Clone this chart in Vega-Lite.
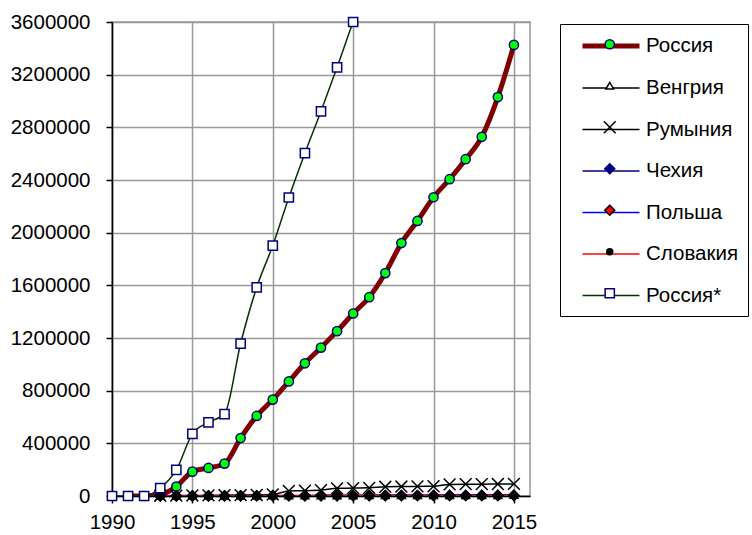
{
  "$schema": "https://vega.github.io/schema/vega-lite/v6.json",
  "autosize": {"type": "none"},
  "padding": {"left": 112, "top": 22, "right": 222, "bottom": 39},
  "width": 418,
  "height": 474,
  "background": "white",
  "config": {
    "font": "Liberation Sans",
    "view": {"stroke": "#999999", "strokeWidth": 1.5},
    "axis": {
      "labelFont": "Liberation Sans",
      "labelFontSize": 20.5,
      "labelColor": "black",
      "gridColor": "#999999",
      "gridWidth": 1.5,
      "gridOpacity": 1,
      "domainColor": "black",
      "domainWidth": 1.5,
      "tickColor": "black",
      "tickWidth": 1.5,
      "title": null,
      "labelFlush": false,
      "labelOverlap": false
    },
    "legend": {
      "labelFont": "Liberation Sans",
      "labelFontSize": 20.5,
      "labelColor": "black"
    }
  },
  "datasets": {
    "d": [
      {"series": "Россия", "year": 1991, "value": 0},
      {"series": "Россия", "year": 1992, "value": 0},
      {"series": "Россия", "year": 1993, "value": 10000},
      {"series": "Россия", "year": 1994, "value": 72000},
      {"series": "Россия", "year": 1995, "value": 185000},
      {"series": "Россия", "year": 1996, "value": 213000},
      {"series": "Россия", "year": 1997, "value": 246000},
      {"series": "Россия", "year": 1998, "value": 440000},
      {"series": "Россия", "year": 1999, "value": 608000},
      {"series": "Россия", "year": 2000, "value": 732000},
      {"series": "Россия", "year": 2001, "value": 870000},
      {"series": "Россия", "year": 2002, "value": 1008000},
      {"series": "Россия", "year": 2003, "value": 1127000},
      {"series": "Россия", "year": 2004, "value": 1252000},
      {"series": "Россия", "year": 2005, "value": 1386000},
      {"series": "Россия", "year": 2006, "value": 1510000},
      {"series": "Россия", "year": 2007, "value": 1693000},
      {"series": "Россия", "year": 2008, "value": 1921000},
      {"series": "Россия", "year": 2009, "value": 2089000},
      {"series": "Россия", "year": 2010, "value": 2269000},
      {"series": "Россия", "year": 2011, "value": 2406000},
      {"series": "Россия", "year": 2012, "value": 2558000},
      {"series": "Россия", "year": 2013, "value": 2728000},
      {"series": "Россия", "year": 2014, "value": 3030000},
      {"series": "Россия", "year": 2015, "value": 3426000},
      {"series": "Венгрия", "year": 1993, "value": 1000},
      {"series": "Венгрия", "year": 1994, "value": 1500},
      {"series": "Венгрия", "year": 1995, "value": 2000},
      {"series": "Венгрия", "year": 1996, "value": 2500},
      {"series": "Венгрия", "year": 1997, "value": 3000},
      {"series": "Венгрия", "year": 1998, "value": 3200},
      {"series": "Венгрия", "year": 1999, "value": 3500},
      {"series": "Венгрия", "year": 2000, "value": 3800},
      {"series": "Венгрия", "year": 2001, "value": 4000},
      {"series": "Венгрия", "year": 2002, "value": 4300},
      {"series": "Венгрия", "year": 2003, "value": 4600},
      {"series": "Венгрия", "year": 2004, "value": 5000},
      {"series": "Венгрия", "year": 2005, "value": 5300},
      {"series": "Венгрия", "year": 2006, "value": 5600},
      {"series": "Венгрия", "year": 2007, "value": 6000},
      {"series": "Венгрия", "year": 2008, "value": 6200},
      {"series": "Венгрия", "year": 2009, "value": 6400},
      {"series": "Венгрия", "year": 2010, "value": 6600},
      {"series": "Венгрия", "year": 2011, "value": 6800},
      {"series": "Венгрия", "year": 2012, "value": 7000},
      {"series": "Венгрия", "year": 2013, "value": 7200},
      {"series": "Венгрия", "year": 2014, "value": 7400},
      {"series": "Венгрия", "year": 2015, "value": 7600},
      {"series": "Румыния", "year": 1993, "value": 2000},
      {"series": "Румыния", "year": 1994, "value": 3000},
      {"series": "Румыния", "year": 1995, "value": 4000},
      {"series": "Румыния", "year": 1996, "value": 5000},
      {"series": "Румыния", "year": 1997, "value": 6000},
      {"series": "Румыния", "year": 1998, "value": 7000},
      {"series": "Румыния", "year": 1999, "value": 8000},
      {"series": "Румыния", "year": 2000, "value": 12000},
      {"series": "Румыния", "year": 2001, "value": 38000},
      {"series": "Румыния", "year": 2002, "value": 40000},
      {"series": "Румыния", "year": 2003, "value": 45000},
      {"series": "Румыния", "year": 2004, "value": 58000},
      {"series": "Румыния", "year": 2005, "value": 60000},
      {"series": "Румыния", "year": 2006, "value": 62000},
      {"series": "Румыния", "year": 2007, "value": 70000},
      {"series": "Румыния", "year": 2008, "value": 72000},
      {"series": "Румыния", "year": 2009, "value": 73000},
      {"series": "Румыния", "year": 2010, "value": 74000},
      {"series": "Румыния", "year": 2011, "value": 88000},
      {"series": "Румыния", "year": 2012, "value": 90000},
      {"series": "Румыния", "year": 2013, "value": 90000},
      {"series": "Румыния", "year": 2014, "value": 91000},
      {"series": "Румыния", "year": 2015, "value": 92000},
      {"series": "Чехия", "year": 1993, "value": 500},
      {"series": "Чехия", "year": 1994, "value": 800},
      {"series": "Чехия", "year": 1995, "value": 1100},
      {"series": "Чехия", "year": 1996, "value": 1400},
      {"series": "Чехия", "year": 1997, "value": 1700},
      {"series": "Чехия", "year": 1998, "value": 2000},
      {"series": "Чехия", "year": 1999, "value": 2200},
      {"series": "Чехия", "year": 2000, "value": 2400},
      {"series": "Чехия", "year": 2001, "value": 2600},
      {"series": "Чехия", "year": 2002, "value": 2800},
      {"series": "Чехия", "year": 2003, "value": 3000},
      {"series": "Чехия", "year": 2004, "value": 3200},
      {"series": "Чехия", "year": 2005, "value": 3400},
      {"series": "Чехия", "year": 2006, "value": 3600},
      {"series": "Чехия", "year": 2007, "value": 3800},
      {"series": "Чехия", "year": 2008, "value": 4000},
      {"series": "Чехия", "year": 2009, "value": 4100},
      {"series": "Чехия", "year": 2010, "value": 4200},
      {"series": "Чехия", "year": 2011, "value": 4300},
      {"series": "Чехия", "year": 2012, "value": 4400},
      {"series": "Чехия", "year": 2013, "value": 4500},
      {"series": "Чехия", "year": 2014, "value": 4600},
      {"series": "Чехия", "year": 2015, "value": 4700},
      {"series": "Польша", "year": 1993, "value": 300},
      {"series": "Польша", "year": 1994, "value": 500},
      {"series": "Польша", "year": 1995, "value": 700},
      {"series": "Польша", "year": 1996, "value": 900},
      {"series": "Польша", "year": 1997, "value": 1100},
      {"series": "Польша", "year": 1998, "value": 1300},
      {"series": "Польша", "year": 1999, "value": 1500},
      {"series": "Польша", "year": 2000, "value": 1700},
      {"series": "Польша", "year": 2001, "value": 1900},
      {"series": "Польша", "year": 2002, "value": 2100},
      {"series": "Польша", "year": 2003, "value": 2300},
      {"series": "Польша", "year": 2004, "value": 2500},
      {"series": "Польша", "year": 2005, "value": 2700},
      {"series": "Польша", "year": 2006, "value": 2900},
      {"series": "Польша", "year": 2007, "value": 3100},
      {"series": "Польша", "year": 2008, "value": 3300},
      {"series": "Польша", "year": 2009, "value": 3500},
      {"series": "Польша", "year": 2010, "value": 3700},
      {"series": "Польша", "year": 2011, "value": 3900},
      {"series": "Польша", "year": 2012, "value": 4100},
      {"series": "Польша", "year": 2013, "value": 4300},
      {"series": "Польша", "year": 2014, "value": 4500},
      {"series": "Польша", "year": 2015, "value": 4700},
      {"series": "Словакия", "year": 1993, "value": 200},
      {"series": "Словакия", "year": 1994, "value": 300},
      {"series": "Словакия", "year": 1995, "value": 400},
      {"series": "Словакия", "year": 1996, "value": 500},
      {"series": "Словакия", "year": 1997, "value": 600},
      {"series": "Словакия", "year": 1998, "value": 700},
      {"series": "Словакия", "year": 1999, "value": 800},
      {"series": "Словакия", "year": 2000, "value": 900},
      {"series": "Словакия", "year": 2001, "value": 1000},
      {"series": "Словакия", "year": 2002, "value": 1100},
      {"series": "Словакия", "year": 2003, "value": 1200},
      {"series": "Словакия", "year": 2004, "value": 1300},
      {"series": "Словакия", "year": 2005, "value": 1400},
      {"series": "Словакия", "year": 2006, "value": 1500},
      {"series": "Словакия", "year": 2007, "value": 1600},
      {"series": "Словакия", "year": 2008, "value": 1700},
      {"series": "Словакия", "year": 2009, "value": 1800},
      {"series": "Словакия", "year": 2010, "value": 1900},
      {"series": "Словакия", "year": 2011, "value": 2000},
      {"series": "Словакия", "year": 2012, "value": 2100},
      {"series": "Словакия", "year": 2013, "value": 2200},
      {"series": "Словакия", "year": 2014, "value": 2300},
      {"series": "Словакия", "year": 2015, "value": 2400},
      {"series": "Россия*", "year": 1990, "value": 0},
      {"series": "Россия*", "year": 1991, "value": 0},
      {"series": "Россия*", "year": 1992, "value": 0},
      {"series": "Россия*", "year": 1993, "value": 60000},
      {"series": "Россия*", "year": 1994, "value": 198000},
      {"series": "Россия*", "year": 1995, "value": 472000},
      {"series": "Россия*", "year": 1996, "value": 560000},
      {"series": "Россия*", "year": 1997, "value": 622000},
      {"series": "Россия*", "year": 1998, "value": 1158000},
      {"series": "Россия*", "year": 1999, "value": 1585000},
      {"series": "Россия*", "year": 2000, "value": 1902000},
      {"series": "Россия*", "year": 2001, "value": 2267000},
      {"series": "Россия*", "year": 2002, "value": 2604000},
      {"series": "Россия*", "year": 2003, "value": 2922000},
      {"series": "Россия*", "year": 2004, "value": 3256000},
      {"series": "Россия*", "year": 2005, "value": 3600000},
      {"series": "Россия*", "year": 2006, "value": 3900000}
    ]
  },
  "data": {"name": "d"},
  "encoding": {
    "x": {
      "field": "year", "type": "quantitative",
      "scale": {"domain": [1990, 2016], "nice": false, "zero": false},
      "axis": {"values": [1990, 1995, 2000, 2005, 2010, 2015], "format": "d", "tickSize": 7, "labelPadding": 9}
    },
    "y": {
      "field": "value", "type": "quantitative",
      "scale": {"domain": [0, 3600000], "nice": false},
      "axis": {"values": [0, 400000, 800000, 1200000, 1600000, 2000000, 2400000, 2800000, 3200000, 3600000], "format": "d", "tickSize": 6, "labelPadding": 16}
    }
  },
  "layer": [
    {
      "mark": {"type": "line", "interpolate": "monotone", "clip": true},
      "encoding": {
        "stroke": {
          "field": "series", "type": "nominal",
          "scale": {"domain": ["Россия", "Венгрия", "Румыния", "Чехия", "Польша", "Словакия", "Россия*"],
                    "range": ["#800000", "#000000", "#000000", "#000080", "#0000FF", "#FF0000", "#003300"]},
          "legend": {"title": null, "orient": "none", "legendX": 448, "legendY": 2, "symbolType": "M-3,0H3", "symbolSize": 361, "padding": 10, "symbolOffset": 29, "labelOffset": 23, "rowPadding": 20.5, "strokeColor": "black", "fillColor": "white", "zindex": 1}
        },
        "strokeWidth": {
          "field": "series", "type": "nominal",
          "scale": {"type": "ordinal", "domain": ["Россия", "Венгрия", "Румыния", "Чехия", "Польша", "Словакия", "Россия*"],
                    "range": [5, 1.5, 1.5, 1.5, 1.5, 1.5, 1.5]},
          "legend": {"title": null, "orient": "none", "legendX": 448, "legendY": 2, "symbolType": "M-3,0H3", "symbolSize": 361, "padding": 10, "symbolOffset": 29, "labelOffset": 23, "rowPadding": 20.5, "strokeColor": "black", "fillColor": "white", "zindex": 1}
        }
      }
    },
    {
      "transform": [{"filter": "datum.value <= 3610000"}],
      "mark": {"type": "point", "filled": true, "opacity": 1, "strokeWidth": 1.5},
      "encoding": {
        "shape": {
          "field": "series", "type": "nominal",
          "scale": {"domain": ["Россия", "Венгрия", "Румыния", "Чехия", "Польша", "Словакия", "Россия*"],
                    "range": ["circle", "triangle-up", "M-1,-1L1,1M-1,1L1,-1", "diamond", "diamond", "circle", "square"]},
          "legend": {"title": null, "orient": "none", "legendX": 467.5, "legendY": 2, "padding": 10, "symbolOffset": 10, "rowPadding": 20.5, "labelExpr": "''", "labelColor": "transparent", "symbolStrokeWidth": 1.5, "zindex": 2}
        },
        "fill": {
          "field": "series", "type": "nominal",
          "scale": {"domain": ["Россия", "Венгрия", "Румыния", "Чехия", "Польша", "Словакия", "Россия*"],
                    "range": ["#00FF00", "#FFFFFF", "transparent", "#000080", "#FF0000", "#000000", "#FFFFFF"]},
          "legend": {"title": null, "orient": "none", "legendX": 467.5, "legendY": 2, "padding": 10, "symbolOffset": 10, "rowPadding": 20.5, "labelExpr": "''", "labelColor": "transparent", "symbolStrokeWidth": 1.5, "zindex": 2}
        },
        "stroke": {
          "field": "series", "type": "nominal",
          "scale": {"domain": ["Россия", "Венгрия", "Румыния", "Чехия", "Польша", "Словакия", "Россия*"],
                    "range": ["#000080", "#000000", "#000000", "#000080", "#000000", "#000000", "#000080"]},
          "legend": {"title": null, "orient": "none", "legendX": 467.5, "legendY": 2, "padding": 10, "symbolOffset": 10, "rowPadding": 20.5, "labelExpr": "''", "labelColor": "transparent", "symbolStrokeWidth": 1.5, "zindex": 2}
        },
        "size": {
          "field": "series", "type": "nominal",
          "scale": {"type": "ordinal", "domain": ["Россия", "Венгрия", "Румыния", "Чехия", "Польша", "Словакия", "Россия*"],
                    "range": [85, 60, 140, 100, 100, 36, 85]},
          "legend": {"title": null, "orient": "none", "legendX": 467.5, "legendY": 2, "padding": 10, "symbolOffset": 10, "rowPadding": 20.5, "labelExpr": "''", "labelColor": "transparent", "symbolStrokeWidth": 1.5, "zindex": 2}
        }
      }
    }
  ],
  "resolve": {
    "scale": {"stroke": "independent", "strokeWidth": "independent", "shape": "independent", "fill": "independent", "size": "independent"},
    "legend": {"stroke": "independent", "strokeWidth": "independent", "shape": "independent", "fill": "independent", "size": "independent"}
  }
}
